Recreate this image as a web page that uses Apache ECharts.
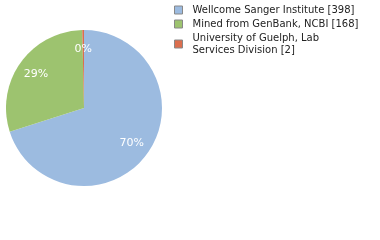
<!DOCTYPE html>
<html>
<head>
<meta charset="utf-8">
<script src="https://cdn.jsdelivr.net/npm/echarts@6/dist/echarts.min.js"></script>
<style>
  html, body { margin: 0; padding: 0; background: #fff; }
  #chart { width: 380px; height: 240px; }
</style>
</head>
<body>
<div id="chart"></div>
<script>
// source names and sample counts
const names = ['Wellcome Sanger Institute', 'Mined from GenBank, NCBI', 'University of Guelph, Lab Services Division'];
const legendLabels = ['Wellcome Sanger Institute [398]', 'Mined from GenBank, NCBI [168]', 'University of Guelph, Lab\nServices Division [2]'];
const counts = [398, 168, 2];
const colors = ['#9cbbe0', '#9dc36f', '#db6e4e'];

const total = counts.reduce((a, b) => a + b, 0);
const pieData = names.map((n, i) => ({ name: n, value: counts[i] }));

const chart = echarts.init(document.getElementById('chart'), null, { renderer: 'canvas' });
chart.setOption({
    animation: false,
    color: colors,
    legend: {
        orient: 'vertical',
        left: 169,
        top: -1,
        itemWidth: 8,
        itemHeight: 8,
        itemGap: 2,
        icon: 'rect',
        itemStyle: { borderColor: '#888', borderWidth: 1 },
        textStyle: { fontFamily: 'DejaVu Sans', fontSize: 10, color: '#222', lineHeight: 12, padding: [0, 0, 0, 5] },
        formatter: name => legendLabels[names.indexOf(name)],
        data: names
    },
    series: [
        {
            type: 'pie',
            center: [84, 108],
            radius: [0, 78],
            startAngle: 90,
            clockwise: true,
            label: { show: false },
            labelLine: { show: false },
            data: pieData
        },
        {
            // transparent ring only used to place the percentage labels
            type: 'pie',
            silent: true,
            center: [84, 108],
            radius: [34, 78],
            startAngle: 90,
            clockwise: true,
            itemStyle: { color: 'rgba(0,0,0,0)' },
            label: {
                show: true,
                position: 'inside',
                color: '#fff',
                fontFamily: 'DejaVu Sans',
                fontSize: 11,
                formatter: p => Math.floor(p.value / total * 100) + '%'
            },
            labelLine: { show: false },
            data: pieData
        }
    ]
});
</script>
</body>
</html>
